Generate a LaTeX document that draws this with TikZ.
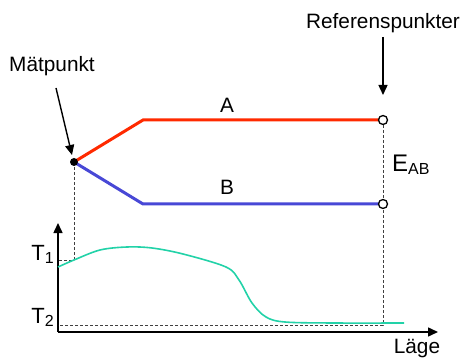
\documentclass[tikz,border=0pt]{standalone}
\usepackage{fontspec}
\setmainfont{Liberation Sans}
\usepackage{tikz}
\usetikzlibrary{arrows.meta,calc}
\definecolor{wirered}{HTML}{FF2A00}
\definecolor{wireblue}{HTML}{4848D6}
\definecolor{tempcurve}{HTML}{22D2A8}

\begin{document}
\begin{tikzpicture}[x=1pt,y=-1pt,
  label/.style={inner sep=0pt,font=\fontsize{20.8}{24}\selectfont},
  wire/.style={line width=3pt,line join=miter},
  guide/.style={black!75,line width=0.8pt,dash pattern=on 3pt off 2pt},
  pointer/.style={-{Triangle[length=10pt,width=9pt]},line width=1.4pt},
  axis/.style={-{Triangle[length=10pt,width=9pt]},line width=1.5pt},
  junction/.style={circle,fill=black,inner sep=0pt,minimum size=8pt},
  terminal/.style={circle,draw=black,fill=white,line width=1.3pt,inner sep=0pt,minimum size=9pt}
]
\path[use as bounding box] (0,0) rectangle (463,358);

% Thermocouple wires
\coordinate (bendA) at (143,120);
\coordinate (bendB) at (143,204);
\coordinate (refA) at (383,120);
\coordinate (refB) at (383,204);
\coordinate (meas) at (74,162);
\draw[wire,wirered] (meas) -- (bendA) -- (refA);
\draw[wire,wireblue] (meas) -- (bendB) -- (refB);

% Axes
\coordinate (origin) at (58,332);
\coordinate (ytop) at (58,223);
\coordinate (xend) at (438,332);
\coordinate (t1) at (58,260);
\coordinate (t2) at (58,325);
\draw[axis] (origin) -- (ytop);
\draw[axis] (origin) -- (xend);

% Projection lines
\draw[guide] (meas) -- (meas |- t1) -- (t1);
\draw[guide] (refA) -- (refA |- t2) -- (t2);

% Temperature along the wire
\draw[tempcurve,line width=1.6pt] plot[smooth,tension=0.55] coordinates {
  (58,267) (74,260) (100,250) (127,247) (152,248) (183,254) (226,267)
  (239,280) (252,303) (266,317) (285,322) (333,323) (404,323)};

% Junction and reference points
\node[junction] (mp) at (meas) {};
\node[terminal] (ra) at (refA) {};
\node[terminal] (rb) at (refB) {};

% Labels
\node[label,anchor=base] (mtxt) at (52,72) {Mätpunkt};
\node[label,anchor=base] (rtxt) at (383,29) {Referenspunkter};
\node[label,anchor=base] (la) at (227,113) {A};
\node[label,anchor=base] (lb) at (227,195) {B};
\node[label,anchor=base west] (emf) at (392,172)
  {{\fontsize{24}{28}\selectfont E}\raisebox{-0.25ex}{\fontsize{16}{18}\selectfont AB}};
\node[label,anchor=base east] (lt1) at (54,260)
  {{\fontsize{22}{26}\selectfont T}\raisebox{-0.3ex}{\fontsize{16}{18}\selectfont 1}};
\node[label,anchor=base east] (lt2) at (54,323)
  {{\fontsize{22}{26}\selectfont T}\raisebox{-0.3ex}{\fontsize{16}{18}\selectfont 2}};
\node[label,anchor=base] (xlab) at (417,353) {Läge};

% Pointers
\coordinate (mstart) at (56,88);
\coordinate (rstart) at (383,37);
\draw[pointer] (mstart) -- ($(mp)+(-2,-7)$);
\draw[pointer] (rstart) -- ($(ra)+(0,-25)$);

\end{tikzpicture}
\end{document}
